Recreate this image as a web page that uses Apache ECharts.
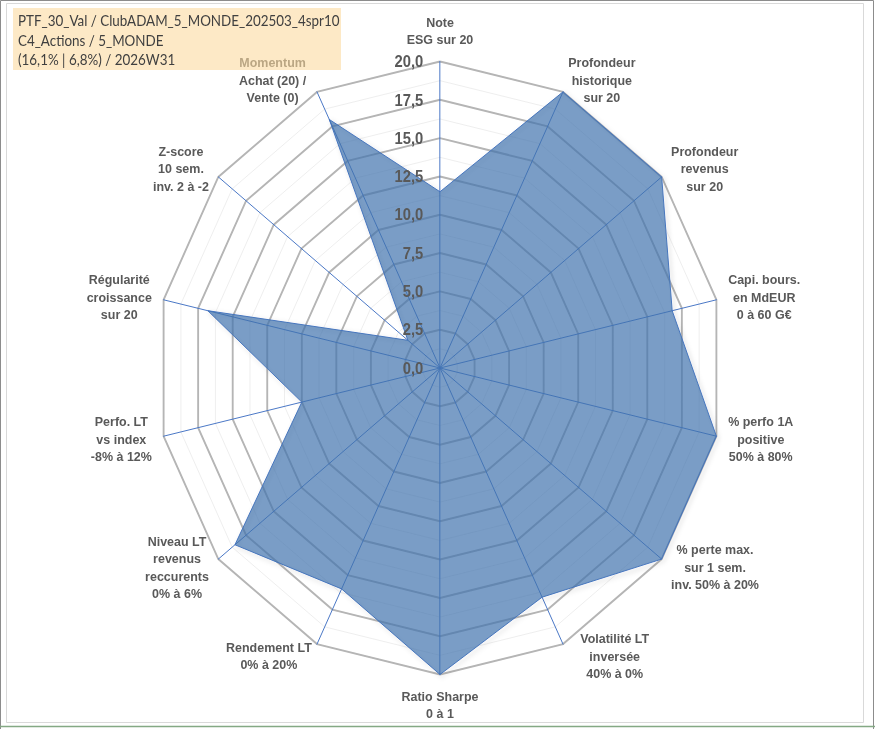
<!DOCTYPE html>
<html>
<head>
<meta charset="utf-8">
<title>PTF_30_Val - radar</title>
<script src="https://cdn.jsdelivr.net/npm/echarts@6/dist/echarts.min.js"></script>
<style>
    html, body { margin: 0; padding: 0; background: #fff; }
    #wrap { position: relative; width: 875px; height: 729px; overflow: hidden; }
    /* le radar Excel est une ellipse : on comprime le repere horizontalement */
    #radar { position: absolute; left: 0; top: 0; width: 946px; height: 729px; transform: scaleX(0.925); transform-origin: 0 0; }
    #frame { position: absolute; left: 0; top: 0; width: 875px; height: 729px; pointer-events: none; }
</style>
</head>
<body>
<div id="wrap">
    <div id="frame"></div>
    <div id="radar"></div>
</div>
<script>
// axes dans le sens horaire a partir du haut
const AXES = [
    'Note\nESG sur 20',
    'Profondeur\nhistorique\nsur 20',
    'Profondeur\nrevenus\nsur 20',
    'Capi. bours.\nen MdEUR\n0 à 60 G€',
    '% perfo 1A\npositive\n50% à 80%',
    '% perte max.\nsur 1 sem.\ninv. 50% à 20%',
    'Volatilité LT\ninversée\n40% à 0%',
    'Ratio Sharpe\n0 à 1',
    'Rendement LT\n0% à 20%',
    'Niveau LT\nrevenus\nreccurents\n0% à 6%',
    'Perfo. LT\nvs index\n-8% à 12%',
    'Régularité\ncroissance\nsur 20',
    'Z-score\n10 sem.\ninv. 2 à -2',
    'Momentum\nAchat (20) /\nVente (0)'
]
const SCORES = [11.5, 20, 20, 16.8, 20, 20, 16.6, 20, 16, 18.5, 10, 16.8, 2.9, 18]
const SCALE_MIN = 0
const SCALE_MAX = 20
const MAJOR_SPLITS = 8   // pas de 2,5
const MINOR_SPLITS = 16  // pas de 1,25
const TITLE_LINES = [
    'PTF_30_Val / ClubADAM_5_MONDE_202503_4spr10',
    'C4_Actions / 5_MONDE',
    '(16,1% | 6,8%) / 2026W31'
]

const SX = 0.925
const CX = 440 / SX
const CY = 368
const R = 306.5
const FONT = '"Liberation Sans", Arial, sans-serif'
// petits decalages d'etiquettes propres au placement Excel
const NAME_PAD = { 6: [0, 0, 0, 13], 13: [0, 6, 0, 0] }

// ECharts pose les indicateurs dans le sens anti-horaire
const ccw = arr => [arr[0]].concat(arr.slice(1).reverse())

const rich = { c: { align: 'center' } }
Object.keys(NAME_PAD).forEach(k => {
    rich['c' + k] = { align: 'center', padding: NAME_PAD[k] }
})

const fmtTick = v => Number(v).toFixed(1).replace('.', ',')

const bareIndicators = (withLabel) => AXES.map((n, k) => {
    const ind = { name: '', min: SCALE_MIN, max: SCALE_MAX }
    if (withLabel && k === 0) ind.axisLabel = { show: true }
    return ind
})
const mainIndicators = ccw(AXES).map(name => ({ name: name, min: SCALE_MIN, max: SCALE_MAX }))

const baseRadar = {
    center: [CX, CY],
    radius: R,
    startAngle: 90,
    shape: 'polygon',
    axisTick: { show: false },
    splitArea: { show: false }
}

const radarChart = echarts.init(document.getElementById('radar'), null, { renderer: 'svg' })
radarChart.setOption({
    animation: false,
    backgroundColor: 'transparent',
    title: {
        text: TITLE_LINES.join('\n'),
        left: 18 / SX,
        top: 11,
        padding: 0,
        z: 20,
        textStyle: {
            color: '#404040',
            fontFamily: 'Lato, "Open Sans", sans-serif',
            fontSize: 14.5,
            fontWeight: 'normal',
            lineHeight: 19.5
        }
    },
    // cartouche semi-transparent, il recouvre le haut de l'etiquette Momentum
    graphic: [{
        type: 'rect',
        z: 15,
        shape: { x: 13 / SX, y: 8, width: 328 / SX, height: 62 },
        style: { fill: 'rgba(252,218,160,0.6)' }
    }],
    radar: [
        // grille fine
        Object.assign({}, baseRadar, {
            splitNumber: MINOR_SPLITS,
            indicator: bareIndicators(false),
            axisName: { show: false },
            axisLine: { show: false },
            axisLabel: { show: false },
            splitLine: { lineStyle: { color: '#ededed', width: 1 } }
        }),
        // grille principale + noms des axes
        Object.assign({}, baseRadar, {
            splitNumber: MAJOR_SPLITS,
            indicator: mainIndicators,
            nameGap: 13,
            axisName: {
                color: '#595959',
                fontFamily: FONT,
                fontSize: 13.5,
                fontWeight: 'bold',
                lineHeight: 17.5,
                formatter: name => {
                    const i = AXES.indexOf(name)
                    const key = NAME_PAD[i] ? 'c' + i : 'c'
                    return name.split('\n').map(l => `{${key}|${l}}`).join('\n')
                },
                rich: rich
            },
            axisLine: { lineStyle: { color: '#4472c4', width: 1 } },
            axisLabel: { show: false },
            splitLine: { lineStyle: { color: '#b5b5b5', width: 2 } }
        }),
        // graduations au-dessus de la surface
        Object.assign({}, baseRadar, {
            z: 5,
            splitNumber: MAJOR_SPLITS,
            indicator: bareIndicators(true),
            axisName: { show: false },
            axisLine: { show: false },
            splitLine: { show: false },
            axisLabel: {
                show: false,
                formatter: fmtTick,
                margin: 18,
                color: '#595959',
                fontFamily: FONT,
                fontSize: 16,
                fontWeight: 'bold'
            }
        })
    ],
    series: [{
        type: 'radar',
        radarIndex: 1,
        symbol: 'none',
        lineStyle: {
            color: '#4472c4',
            width: 1,
            shadowBlur: 5,
            shadowColor: 'rgba(0,0,0,0.3)',
            shadowOffsetX: 2,
            shadowOffsetY: 2
        },
        areaStyle: { color: '#4173ae', opacity: 0.7 },
        data: [{ value: ccw(SCORES), name: 'PTF_30_Val' }]
    }]
})

// cadre de la zone graphique (non comprime)
const frameChart = echarts.init(document.getElementById('frame'), null, { renderer: 'svg' })
frameChart.setOption({
    animation: false,
    backgroundColor: 'transparent',
    graphic: [
        { type: 'rect', shape: { x: 6.5, y: 3.5, width: 857, height: 719 }, style: { fill: 'none', stroke: '#d9d9d9', lineWidth: 1 } },
        { type: 'polyline', shape: { points: [[0.5, 729], [0.5, 0.5], [873.5, 0.5], [873.5, 729]] }, style: { fill: 'none', stroke: '#8c8c8c', lineWidth: 1 } },
        { type: 'line', shape: { x1: 0, y1: 726.5, x2: 875, y2: 726.5 }, style: { stroke: '#84a984', lineWidth: 1.5 } }
    ]
})
</script>
</body>
</html>
